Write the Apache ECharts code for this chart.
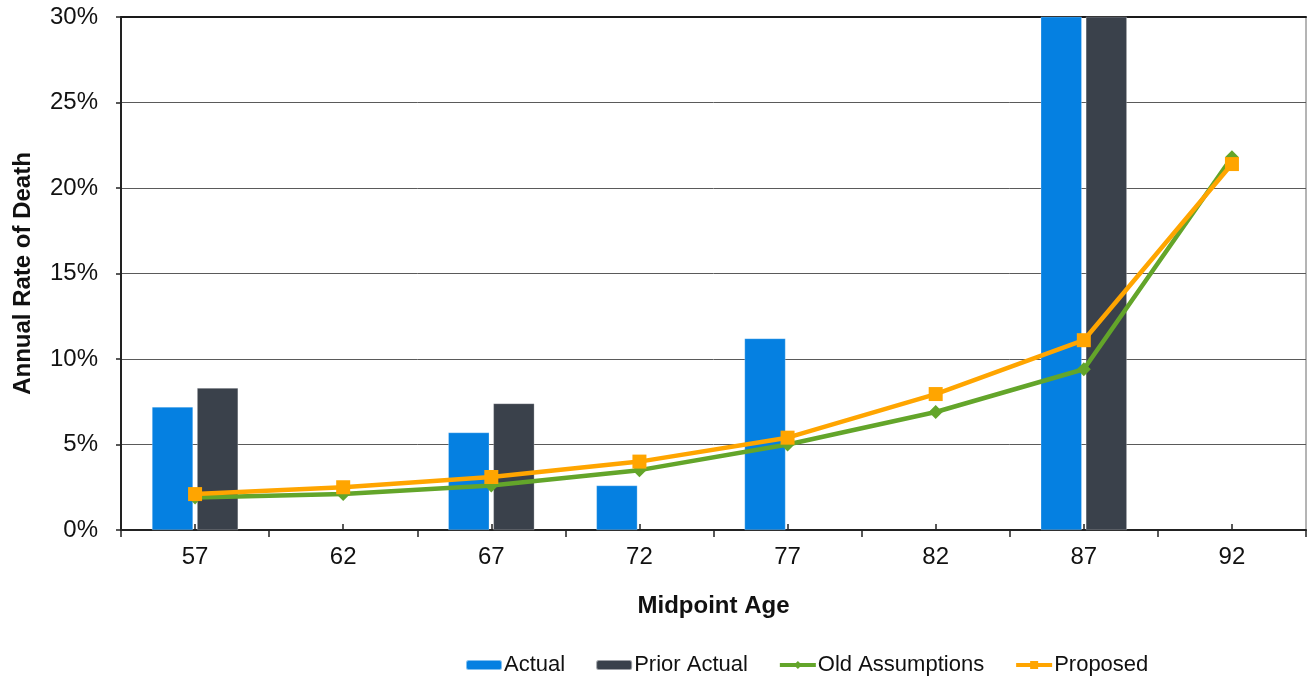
<!DOCTYPE html>
<html>
<head>
<meta charset="utf-8">
<script src="https://cdn.jsdelivr.net/npm/echarts@6/dist/echarts.min.js"></script>
<style>
  html, body { margin: 0; padding: 0; background: #fff; }
  #chart { width: 1307px; height: 679px; }
</style>
</head>
<body>
<div id="chart"></div>
<script>
// Midpoint ages along the x axis
const ages = ['57', '62', '67', '72', '77', '82', '87', '92'];

// Annual rates of death, in percent (null = no observation)
const actual       = [7.2, null, 5.7, 2.6, 11.2, null, 34.5, null];
const priorActual  = [8.3, null, 7.4, null, null, null, 36.0, null];
const oldAssump    = [1.9, 2.1, 2.6, 3.5, 5.0, 6.9, 9.4, 21.8];
const proposed     = [2.1, 2.5, 3.1, 4.0, 5.4, 7.95, 11.1, 21.4];

// Y axis range and step, in percent
const yMin = 0, yMax = 30, yStep = 5;

const FONT = '"Liberation Sans", Arial, sans-serif';
const C_ACTUAL = '#0580E1';
const C_PRIOR = '#3A414B';
const C_OLD = '#63A52A';
const C_PROP = '#FFA500';

const chart = echarts.init(document.getElementById('chart'), null, { renderer: 'canvas' });

chart.setOption({
  animation: false,
  backgroundColor: '#fff',
  textStyle: { fontFamily: FONT },
  grid: {
    left: 121, right: 1, top: 17, bottom: 149,
    show: true, borderColor: '#6a6a6a', borderWidth: 1, backgroundColor: 'transparent'
  },
  legend: {
    left: 460, top: 649,
    itemWidth: 36, itemHeight: 10, itemGap: 30,
    textStyle: { fontFamily: FONT, fontSize: 22, color: '#111', padding: [0, 0, 0, -3] },
    data: [
      { name: 'Actual' },
      { name: 'Prior Actual' },
      { name: 'Old Assumptions', lineStyle: { width: 4 } },
      { name: 'Proposed', lineStyle: { width: 4 } }
    ]
  },
  xAxis: [
    {
      type: 'category', data: ages, position: 'bottom',
      name: 'Midpoint Age', nameLocation: 'middle', nameGap: 64,
      nameTextStyle: { fontFamily: FONT, fontSize: 24, fontWeight: 'bold', color: '#111' },
      axisLine: { show: true, lineStyle: { color: '#222', width: 2 } },
      axisTick: { show: true, inside: false, length: 7, lineStyle: { color: '#222', width: 1.5 } },
      axisLabel: { fontFamily: FONT, fontSize: 24, color: '#111', margin: 15 },
      splitLine: { show: false }
    },
    {
      // short upward marks at each category centre
      type: 'category', data: ages, position: 'bottom', gridIndex: 0,
      axisLine: { show: false },
      axisTick: { show: true, inside: true, alignWithLabel: true, length: 6, lineStyle: { color: '#222', width: 1.5 } },
      axisLabel: { show: false },
      splitLine: { show: false }
    },
    {
      // dark top edge of the plot area
      type: 'category', data: ages, position: 'top', gridIndex: 0,
      axisLine: { show: true, lineStyle: { color: '#1a1a1a', width: 2 } },
      axisTick: { show: false },
      axisLabel: { show: false },
      splitLine: { show: false }
    }
  ],
  yAxis: {
    type: 'value', min: yMin, max: yMax, interval: yStep,
    name: 'Annual Rate of Death', nameLocation: 'middle', nameGap: 86,
    nameTextStyle: { fontFamily: FONT, fontSize: 24, fontWeight: 'bold', color: '#111' },
    axisLine: { show: true, lineStyle: { color: '#222', width: 2 } },
    axisTick: { show: true, inside: false, length: 5, lineStyle: { color: '#222', width: 1.5 } },
    axisLabel: { fontFamily: FONT, fontSize: 24, color: '#111', margin: 23, formatter: '{value}%' },
    splitLine: { show: true, lineStyle: { color: '#5a5a5a', width: 1 } }
  },
  series: [
    {
      name: 'Actual', type: 'bar', data: actual,
      barWidth: 41, barGap: '10%',
      clip: true,
      itemStyle: { color: C_ACTUAL, borderColor: 'rgba(255,255,255,0.5)', borderWidth: 0.5 }
    },
    {
      name: 'Prior Actual', type: 'bar', data: priorActual,
      barWidth: 41, barGap: '10%',
      clip: true,
      itemStyle: { color: C_PRIOR, borderColor: 'rgba(255,255,255,0.5)', borderWidth: 0.5 }
    },
    {
      name: 'Old Assumptions', type: 'line', data: oldAssump,
      symbol: 'diamond', symbolSize: 14,
      lineStyle: { color: C_OLD, width: 4.5 },
      itemStyle: { color: C_OLD },
      z: 3
    },
    {
      name: 'Proposed', type: 'line', data: proposed,
      symbol: 'rect', symbolSize: 14,
      lineStyle: { color: C_PROP, width: 4.5 },
      itemStyle: { color: C_PROP },
      z: 4
    }
  ]
});
</script>
</body>
</html>
